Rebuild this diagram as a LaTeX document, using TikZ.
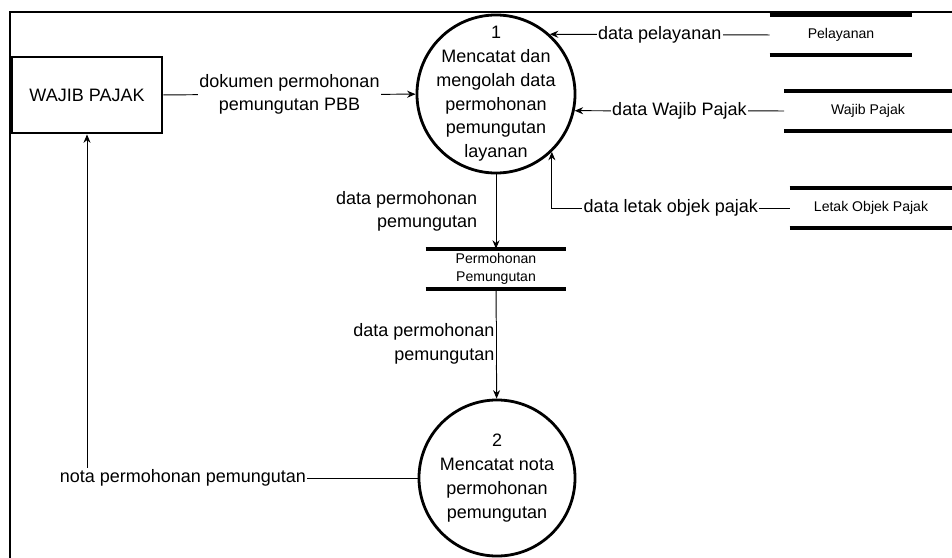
\documentclass[tikz,border=0pt]{standalone}
\usepackage{fontspec}
\setmainfont{Liberation Sans}
\usetikzlibrary{positioning,arrows.meta}
\begin{document}
\begin{tikzpicture}[x=0.025cm,y=-0.025cm,
 entity/.style={draw,line width=2pt,align=center,minimum width=3.75cm,minimum height=1.9cm,font=\fontsize{12.8}{16.7}\selectfont},
 process/.style={draw,circle,line width=2pt,align=center,inner sep=0pt,minimum size=3.95cm,font=\fontsize{12.8}{16.9}\selectfont},
 store/.style={align=center,minimum height=1cm,inner sep=0pt,font=\fontsize{10}{12.8}\selectfont},
 storeline/.style={line width=2.8pt},
 lab/.style={font=\fontsize{12.8}{16.7}\selectfont,fill=white,inner sep=1pt,align=center},
 flow/.style={->,line width=0.7pt},>={Stealth[length=6pt,width=5pt]}]
\useasboundingbox (0,0) rectangle (952,558);
\draw[line width=1.4pt] (10,558) -- (10,12) -- (952,12);
\node[entity] (wp) at (87,95) {WAJIB PAJAK};
\node[process,inner sep=-7pt] (p1) at (496,94) {1\\Mencatat dan\\mengolah data\\permohonan\\pemungutan\\layanan};
\node[process,minimum size=3.9cm] (p2) at (497,478) {2\\Mencatat nota\\permohonan\\pemungutan};
\node[store,minimum width=3.55cm] (pel) at (841,35) {Pelayanan};
\node[store,minimum width=4.175cm] (wpj) at (868,111) {Wajib Pajak};
\node[store,minimum width=4.05cm] (lop) at (871,208) {Letak Objek Pajak};
\node[store,minimum width=3.5cm] (pp) at (496,269) {Permohonan\\Pemungutan};
\foreach \s in {pel,wpj,lop,pp}
  \draw[storeline] (\s.north west) -- (\s.north east) (\s.south west) -- (\s.south east);
\draw[flow] (wp) -- node[lab] {dokumen permohonan\\pemungutan PBB} (p1);
\draw[flow] (pel.west) -- node[lab] {data pelayanan} (p1.48);
\draw[flow] (wpj.west) -- node[lab] {data Wajib Pajak} (p1.-12);
\draw[flow] (lop.west) -| node[lab,pos=0.25] {data letak objek pajak} (p1.-46);
\draw[flow] (p1) -- node[lab,align=right,left=12pt] {data permohonan\\pemungutan} (pp);
\draw[flow] (pp) -- node[lab,align=right,left=0pt] {data permohonan\\pemungutan} (p2);
\draw[flow] (p2) -| node[lab,pos=0.355] {nota permohonan pemungutan} (wp);
\end{tikzpicture}
\end{document}
